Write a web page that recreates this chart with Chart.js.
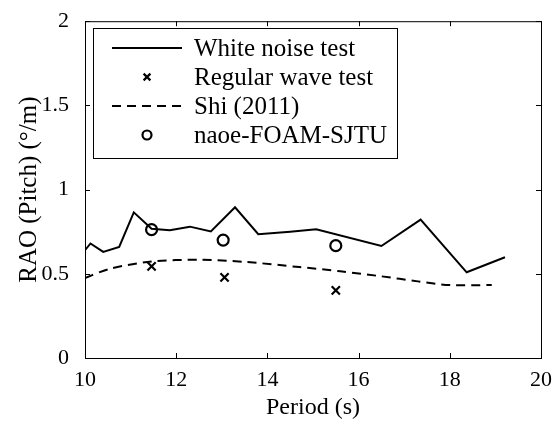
<!DOCTYPE html>
<html>
<head>
<meta charset="utf-8">
<script src="https://cdn.jsdelivr.net/npm/chart.js@4"></script>
<style>
  body { margin: 0; background: #fff; }
  #wrap { width: 554px; height: 426px; }
</style>
</head>
<body>
<div id="wrap"><canvas id="chart"></canvas></div>
<script>
// white noise test (solid line)
const noisePeriod = [10.0, 10.12, 10.4, 10.75, 11.07, 11.46, 11.86, 12.3, 12.76, 13.29, 13.8, 14.5, 15.07, 16.5, 17.36, 18.37, 19.21];
const noiseRao    = [0.64, 0.68, 0.63, 0.66, 0.865, 0.768, 0.758, 0.78, 0.752, 0.895, 0.735, 0.75, 0.764, 0.665, 0.822, 0.509, 0.598];

// regular wave test (x markers)
const regPeriod = [11.46, 13.06, 15.5];
const regRao    = [0.544, 0.479, 0.402];

// Shi (2011) (dashed)
const shiPeriod = [10.0, 10.55, 11.46, 12.52, 13.5, 14.7, 15.6, 16.5, 17.3, 18.0, 18.92];
const shiRao    = [0.475, 0.53, 0.573, 0.583, 0.571, 0.54, 0.515, 0.485, 0.455, 0.433, 0.433];

// naoe-FOAM-SJTU (circles)
const cfdPeriod = [11.46, 13.03, 15.5];
const cfdRao    = [0.762, 0.70, 0.667];

const xTicks = [10, 12, 14, 16, 18, 20];
const yTicks = [0, 0.5, 1, 1.5, 2];

const pts = (xs, ys) => xs.map((x, i) => ({ x: x, y: ys[i] }));
const serif = "'Liberation Serif', 'Times New Roman', serif";

// inward ticks and the box round the plot, matlab style
const boxPlugin = {
  id: "box",
  afterDatasetsDraw(chart) {
    const ctx = chart.ctx;
    const a = chart.chartArea;
    const sx = chart.scales.x, sy = chart.scales.y;
    ctx.save();
    ctx.strokeStyle = "#000";
    ctx.lineWidth = 1;
    ctx.strokeRect(a.left + 0.5, a.top + 0.5, a.right - a.left, a.bottom - a.top);
    ctx.beginPath();
    xTicks.forEach((v) => {
      const px = Math.round(sx.getPixelForValue(v)) + 0.5;
      ctx.moveTo(px, a.bottom); ctx.lineTo(px, a.bottom - 5);
      ctx.moveTo(px, a.top); ctx.lineTo(px, a.top + 5);
    });
    yTicks.forEach((v) => {
      const py = Math.round(sy.getPixelForValue(v)) + 0.5;
      ctx.moveTo(a.left, py); ctx.lineTo(a.left + 5, py);
      ctx.moveTo(a.right, py); ctx.lineTo(a.right - 5, py);
    });
    ctx.stroke();
    ctx.restore();
  },
};

// legend drawn inside the plot area
const legendPlugin = {
  id: "boxLegend",
  afterDraw(chart) {
    const ctx = chart.ctx;
    const x0 = 93, y0 = 28, w = 304, h = 130;
    ctx.save();
    ctx.fillStyle = "#fff";
    ctx.fillRect(x0, y0, w, h);
    ctx.strokeStyle = "#000";
    ctx.lineWidth = 1;
    ctx.strokeRect(x0 + 0.5, y0 + 0.5, w, h);
    ctx.font = "25px " + serif;
    ctx.textBaseline = "middle";
    chart.data.datasets.forEach((ds, i) => {
      const yy = 48 + i * 29;
      ctx.strokeStyle = "#000";
      if (ds.showLine) {
        ctx.lineWidth = ds.borderWidth;
        ctx.setLineDash(ds.borderDash || []);
        ctx.beginPath();
        ctx.moveTo(112, yy); ctx.lineTo(182, yy);
        ctx.stroke();
        ctx.setLineDash([]);
      } else {
        ctx.fillStyle = "#fff";
        ctx.lineWidth = ds.borderWidth;
        Chart.helpers.drawPoint(ctx, {
          pointStyle: ds.pointStyle, radius: ds.legendRadius, borderWidth: ds.borderWidth, rotation: 0,
        }, 147, yy);
      }
      ctx.fillStyle = "#000";
      ctx.fillText(ds.label, 194, yy + 1);
    });
    ctx.restore();
  },
};

new Chart(document.getElementById("chart"), {
  type: "scatter",
  data: {
    datasets: [
      {
        label: "White noise test",
        data: pts(noisePeriod, noiseRao),
        showLine: true, borderColor: "#000", borderWidth: 2, pointRadius: 0, tension: 0,
      },
      {
        label: "Regular wave test",
        data: pts(regPeriod, regRao),
        showLine: false, pointStyle: "crossRot", pointRadius: 5.8, legendRadius: 4.8,
        borderColor: "#000", borderWidth: 2.2,
      },
      {
        label: "Shi (2011)",
        data: pts(shiPeriod, shiRao),
        showLine: true, borderColor: "#000", borderWidth: 2, borderDash: [9, 6], pointRadius: 0, tension: 0.3,
      },
      {
        label: "naoe-FOAM-SJTU",
        data: pts(cfdPeriod, cfdRao),
        showLine: false, pointStyle: "circle", pointRadius: 5.5, legendRadius: 4.5,
        borderColor: "#000", backgroundColor: "rgba(0,0,0,0)", borderWidth: 2.2,
      },
    ],
  },
  options: {
    responsive: true,
    maintainAspectRatio: false,
    animation: false,
    layout: { padding: { top: 16, right: 13, left: 0, bottom: 0 } },
    plugins: { legend: { display: false }, tooltip: { enabled: false } },
    scales: {
      x: {
        type: "linear", min: 10, max: 20,
        afterFit: (s) => { s.height = 68; },
        afterBuildTicks: (s) => { s.ticks = xTicks.map((v) => ({ value: v })); },
        grid: { display: false },
        border: { display: false },
        ticks: { color: "#000", font: { family: serif, size: 22 }, padding: 1, maxRotation: 0 },
        title: { display: true, text: "Period (s)", color: "#000", font: { family: serif, size: 24 }, padding: { top: 0 } },
      },
      y: {
        type: "linear", min: 0, max: 2,
        afterFit: (s) => { s.width = 85; },
        afterBuildTicks: (s) => { s.ticks = yTicks.map((v) => ({ value: v })); },
        grid: { display: false },
        border: { display: false },
        ticks: {
          color: "#000", font: { family: serif, size: 22 }, padding: 8,
          callback: (v) => String(v),
        },
        title: { display: true, text: "RAO (Pitch) (°/m)", color: "#000", font: { family: serif, size: 25 }, padding: { top: 14, bottom: 4 } },
      },
    },
  },
  plugins: [boxPlugin, legendPlugin],
});
</script>
</body>
</html>
